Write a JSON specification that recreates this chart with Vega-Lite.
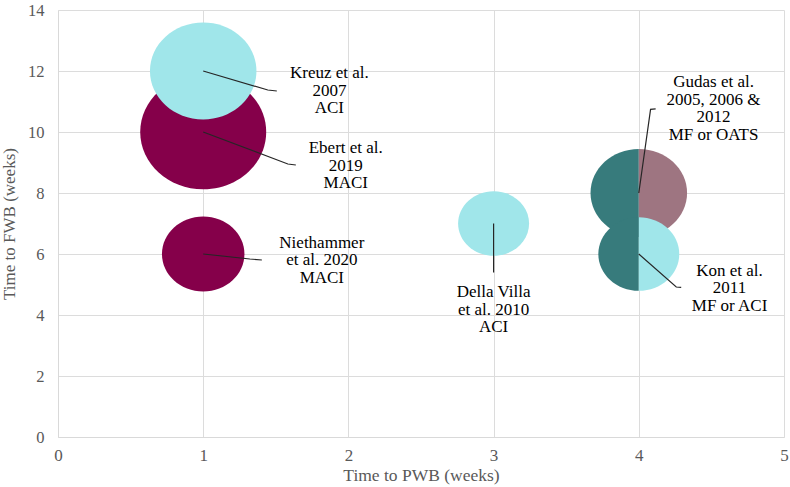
{
  "$schema": "https://vega.github.io/schema/vega-lite/v6.json",
  "width": 726,
  "height": 427,
  "autosize": "none",
  "padding": {"left": 58, "top": 10, "right": 6, "bottom": 50},
  "background": "white",
  "config": {"view": {"stroke": null}, "font": "Liberation Serif"},
  "datasets": {
    "bubbles": [
      {"study": "Ebert et al. 2019", "pwb": 1, "fwb": 10, "n": 63, "procedure": "MACI", "half": "full"},
      {"study": "Kreuz et al. 2007", "pwb": 1, "fwb": 12, "n": 45, "procedure": "ACI", "half": "full"},
      {"study": "Niethammer et al. 2020", "pwb": 1, "fwb": 6, "n": 27, "procedure": "MACI", "half": "full"},
      {"study": "Della Villa et al. 2010", "pwb": 3, "fwb": 7, "n": 20, "procedure": "ACI", "half": "full"},
      {"study": "Gudas et al.", "pwb": 4, "fwb": 8, "n": 37, "procedure": "MF", "half": "left"},
      {"study": "Gudas et al.", "pwb": 4, "fwb": 8, "n": 37, "procedure": "OATS", "half": "right"},
      {"study": "Kon et al. 2011", "pwb": 4, "fwb": 6, "n": 26, "procedure": "MF", "half": "left"},
      {"study": "Kon et al. 2011", "pwb": 4, "fwb": 6, "n": 26, "procedure": "ACI", "half": "right"}
    ],
    "leaders": [
      {"id": "Kreuz", "seq": 1, "pwb": 1, "fwb": 12},
      {"id": "Kreuz", "seq": 2, "pwb": 1.445, "fwb": 11.377},
      {"id": "Kreuz", "seq": 3, "pwb": 1.507, "fwb": 11.344},
      {"id": "Ebert", "seq": 1, "pwb": 1, "fwb": 10},
      {"id": "Ebert", "seq": 2, "pwb": 1.583, "fwb": 8.951},
      {"id": "Ebert", "seq": 3, "pwb": 1.638, "fwb": 8.918},
      {"id": "Niethammer", "seq": 1, "pwb": 1, "fwb": 6},
      {"id": "Niethammer", "seq": 2, "pwb": 1.321, "fwb": 5.836},
      {"id": "Niethammer", "seq": 3, "pwb": 1.404, "fwb": 5.803},
      {"id": "DellaVilla", "seq": 1, "pwb": 3, "fwb": 7},
      {"id": "DellaVilla", "seq": 2, "pwb": 3, "fwb": 5.39},
      {"id": "Gudas", "seq": 1, "pwb": 4, "fwb": 8},
      {"id": "Gudas", "seq": 2, "pwb": 4.081, "fwb": 10.744},
      {"id": "Gudas", "seq": 3, "pwb": 4.116, "fwb": 10.76},
      {"id": "Kon", "seq": 1, "pwb": 4, "fwb": 6},
      {"id": "Kon", "seq": 2, "pwb": 4.258, "fwb": 4.918},
      {"id": "Kon", "seq": 3, "pwb": 4.292, "fwb": 4.908}
    ],
    "labels": [
      {"label": "Kreuz et al.\n2007\nACI", "pwb": 1.869, "fwb": 11.77},
      {"label": "Ebert et al.\n2019\nMACI", "pwb": 1.982, "fwb": 9.31},
      {"label": "Niethammer\net al. 2020\nMACI", "pwb": 1.817, "fwb": 6.197},
      {"label": "Della Villa\net al. 2010\nACI", "pwb": 3.0, "fwb": 4.59},
      {"label": "Gudas et al.\n2005, 2006 &\n2012\nMF or OATS", "pwb": 4.515, "fwb": 11.475},
      {"label": "Kon et al.\n2011\nMF or ACI", "pwb": 4.625, "fwb": 5.28}
    ]
  },
  "encoding": {
    "x": {
      "field": "pwb", "type": "quantitative",
      "scale": {"domain": [0, 5], "nice": false, "zero": true},
      "title": "Time to PWB (weeks)",
      "axis": {
        "values": [0, 1, 2, 3, 4, 5], "format": "d",
        "labelFont": "Liberation Serif", "labelFontSize": 17, "labelColor": "#595959",
        "labelPadding": 10, "labelFlush": false,
        "titleFont": "Liberation Serif", "titleFontSize": 17.5, "titleFontWeight": "normal", "titleColor": "#595959",
        "titlePadding": 3,
        "ticks": false, "domainColor": "#d9d9d9", "domainWidth": 1,
        "grid": true, "gridColor": "#dcdcdc", "gridWidth": 1
      }
    },
    "y": {
      "field": "fwb", "type": "quantitative",
      "scale": {"domain": [0, 14], "nice": false, "zero": true},
      "title": "Time to FWB (weeks)",
      "axis": {
        "values": [0, 2, 4, 6, 8, 10, 12, 14], "format": "d",
        "labelFont": "Liberation Serif", "labelFontSize": 16.5, "labelColor": "#595959",
        "labelPadding": 14, "labelFlush": false,
        "titleFont": "Liberation Serif", "titleFontSize": 17, "titleFontWeight": "normal", "titleColor": "#595959",
        "titlePadding": 9,
        "ticks": false, "domainColor": "#d9d9d9", "domainWidth": 1,
        "grid": true, "gridColor": "#dcdcdc", "gridWidth": 1
      }
    }
  },
  "layer": [
    {
      "data": {"name": "bubbles"},
      "mark": {"type": "point", "filled": true, "opacity": 1, "strokeWidth": 0},
      "encoding": {
        "size": {"field": "n", "type": "quantitative", "scale": {"domain": [0, 63], "range": [0, 15876]}, "legend": null},
        "shape": {
          "field": "half", "type": "nominal", "legend": null,
          "scale": {
            "domain": ["full", "left", "right"],
            "range": [
              "M -1 0 A 1 0.91 0 1 1 1 0 A 1 0.91 0 1 1 -1 0 Z",
              "M 0 -0.91 A 1 0.91 0 0 0 0 0.91 Z",
              "M 0 -0.91 A 1 0.91 0 0 1 0 0.91 Z"
            ]
          }
        },
        "color": {
          "field": "procedure", "type": "nominal", "legend": null,
          "scale": {"domain": ["MACI", "ACI", "MF", "OATS"], "range": ["#85004a", "#a0e6ea", "#377b7c", "#9e7581"]}
        }
      }
    },
    {
      "data": {"name": "leaders"},
      "mark": {"type": "line", "color": "#262626", "strokeWidth": 1.2},
      "encoding": {
        "detail": {"field": "id", "type": "nominal"},
        "order": {"field": "seq", "type": "quantitative"}
      }
    },
    {
      "data": {"name": "labels"},
      "mark": {"type": "text", "align": "center", "baseline": "alphabetic", "lineBreak": "\n", "font": "Liberation Serif", "fontSize": 17, "lineHeight": 17.5, "color": "#000000"},
      "encoding": {
        "text": {"field": "label", "type": "nominal"}
      }
    }
  ]
}
